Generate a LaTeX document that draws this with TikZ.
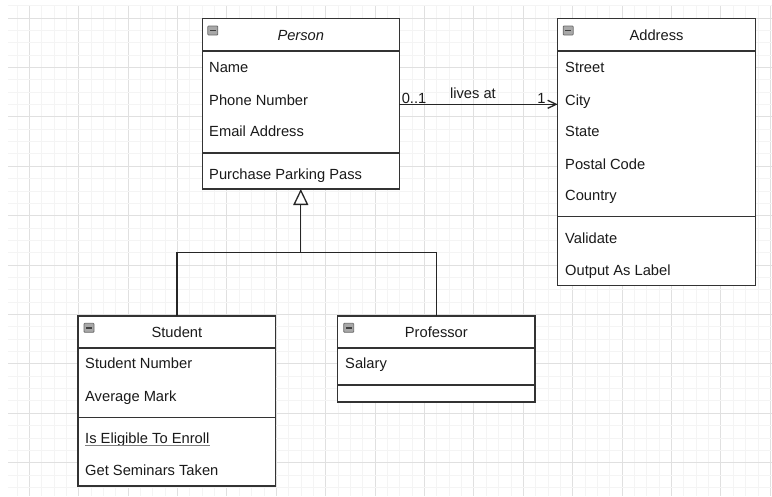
\documentclass[tikz,border=0pt]{standalone}
\usepackage{fontspec}
\setmainfont{Liberation Sans}
\usetikzlibrary{arrows.meta}

\definecolor{gridminor}{HTML}{F4F4F4}
\definecolor{gridmajor}{HTML}{E0E0E0}
\definecolor{boxline}{HTML}{333333}
\definecolor{inktext}{HTML}{1A1A1A}
\definecolor{iconfill}{HTML}{A8A8A8}
\definecolor{iconline}{HTML}{6A6A6A}

\tikzset{
  classbox/.style={draw=boxline, line width=1.3pt, fill=white, rectangle,
    inner sep=0pt, outer sep=0pt, anchor=north west},
  divider/.style={draw=boxline, line width=1.3pt},
  member/.style={anchor=base west, inner sep=0pt, text=inktext,
    font=\fontsize{14.7}{17}\selectfont},
  title/.style={anchor=base, inner sep=0pt, text=inktext,
    font=\fontsize{14.7}{17}\selectfont},
  link/.style={draw=black!85, line width=1.3pt},
  lbl/.style={inner sep=0pt, text=inktext, font=\fontsize{14.7}{17}\selectfont},
  collapse/.pic={
    \draw[fill=iconfill, draw=iconline, line width=0.8pt, rounded corners=0.8pt]
      (0,0) rectangle (10,9);
    \draw[draw=black!75, line width=1.4pt] (2.2,4.5) -- (7.8,4.5);
  }
}

\begin{document}
\begin{tikzpicture}[x=1pt, y=-1pt]
\useasboundingbox (0,0) rectangle (772,496);
\fill[white] (0,0) rectangle (772,496);

% background grid: minor every 12.35, major every fourth line
\begin{scope}
  \clip (8,5) rectangle (772,496);
  \foreach \i in {-2,...,62} {
    \pgfmathsetmacro{\gx}{29.3+12.35*\i}
    \pgfmathtruncatemacro{\ismajor}{mod(\i+8,4)==0}
    \ifnum\ismajor=1
      \draw[gridmajor, line width=0.9pt] (\gx,0) -- (\gx,496);
    \else
      \draw[gridminor, line width=0.8pt] (\gx,0) -- (\gx,496);
    \fi
  }
  \foreach \j in {-2,...,40} {
    \pgfmathsetmacro{\gy}{18+12.35*\j}
    \pgfmathtruncatemacro{\ismajor}{mod(\j+8,4)==0}
    \ifnum\ismajor=1
      \draw[gridmajor, line width=0.9pt] (0,\gy) -- (772,\gy);
    \else
      \draw[gridminor, line width=0.8pt] (0,\gy) -- (772,\gy);
    \fi
  }
\end{scope}

% ---------- Person ----------
\node[classbox, minimum width=197pt, minimum height=170.5pt] (person) at (202.3,18.5) {};
\draw[divider] ([yshift=-32.5pt]person.north west) -- ([yshift=-32.5pt]person.north east);
\draw[divider] ([yshift=-134.5pt]person.north west) -- ([yshift=-134.5pt]person.north east);
\pic at (207.8,26) {collapse};
\node[title] (personTitle) at (300.8,40) {\itshape Person};
\node[member] (pName)  at (209,72.3)  {Name};
\node[member] (pPhone) at (209,105)   {Phone Number};
\node[member] (pEmail) at (209,136.3) {Email Address};
\node[member] (pPark)  at (209,179)   {Purchase Parking Pass};

% ---------- Address ----------
\node[classbox, minimum width=197.6pt, minimum height=267pt] (address) at (557.7,18.5) {};
\draw[divider] ([yshift=-32.5pt]address.north west) -- ([yshift=-32.5pt]address.north east);
\draw[divider] ([yshift=-198.2pt]address.north west) -- ([yshift=-198.2pt]address.north east);
\pic at (563.2,26) {collapse};
\node[title] (addressTitle) at (656.5,40) {Address};
\node[member] (aStreet)  at (565,72.3)  {Street};
\node[member] (aCity)    at (565,105)   {City};
\node[member] (aState)   at (565,136.7) {State};
\node[member] (aPostal)  at (565,169.3) {Postal Code};
\node[member] (aCountry) at (565,200.7) {Country};
\node[member] (aValid)   at (565,243.3) {Validate};
\node[member] (aLabel)   at (565,275)   {Output As Label};

% ---------- Student ----------
\node[classbox, minimum width=197.7pt, minimum height=170pt] (student) at (78,316) {};
\draw[divider] ([yshift=-32pt]student.north west) -- ([yshift=-32pt]student.north east);
\draw[divider] ([yshift=-101.5pt]student.north west) -- ([yshift=-101.5pt]student.north east);
\pic at (84,323.3) {collapse};
\node[title] (studentTitle) at (176.85,337.3) {Student};
\node[member] (sNumber) at (85,368.7) {Student Number};
\node[member] (sMark)   at (85,401.7) {Average Mark};
\node[member] (sEnroll) at (85,443.3) {Is Eligible To Enroll};
\draw[gray, line width=0.9pt] ([yshift=-2.3pt]sEnroll.base west) -- ([yshift=-2.3pt]sEnroll.base east);
\node[member] (sSem)    at (85,475.7) {Get Seminars Taken};

% ---------- Professor ----------
\node[classbox, minimum width=197.3pt, minimum height=86pt] (professor) at (337.7,316) {};
\draw[divider] ([yshift=-32pt]professor.north west) -- ([yshift=-32pt]professor.north east);
\draw[divider] ([yshift=-69pt]professor.north west) -- ([yshift=-69pt]professor.north east);
\pic at (343.7,323.3) {collapse};
\node[title] (professorTitle) at (436.35,337.3) {Professor};
\node[member] (prSalary) at (345,368.7) {Salary};

% ---------- association: Person lives at Address ----------
\coordinate (assocStart) at ([yshift=-85.8pt]person.north east);
\draw[link, -{Straight Barb[length=8.5pt, width=8pt, line width=1.3pt]}]
  (assocStart) -- (assocStart -| address.west)
  node[lbl, pos=0, anchor=base west, xshift=1.8pt, yshift=1pt] (multFrom) {0..1}
  node[lbl, pos=0.465, anchor=base, yshift=6.3pt] (assocName) {lives at}
  node[lbl, pos=1, anchor=base east, xshift=-11.5pt, yshift=1pt] (multTo) {1};

% ---------- generalisation: Student, Professor -> Person ----------
\coordinate (split) at (person.south |- 0,252.3);
\draw[link] (student.north) |- (split) -| (professor.north);
\draw[link, -{Triangle[length=16pt, width=15pt, fill=white, line width=1.3pt]}]
  (split) -- (person.south);

\end{tikzpicture}
\end{document}
